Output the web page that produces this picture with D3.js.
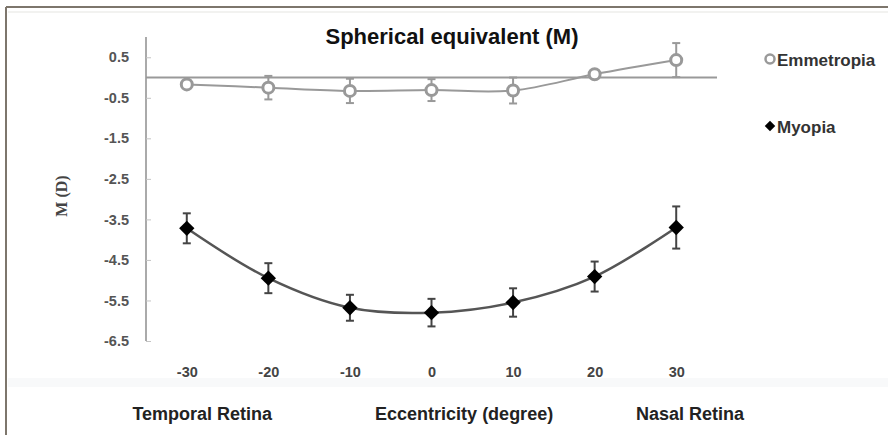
<!DOCTYPE html>
<html><head><meta charset="utf-8">
<script src="https://cdn.jsdelivr.net/npm/d3@7"></script>
<style>body{margin:0;background:#fff}svg{display:block}</style>
</head><body>
<svg id="c" width="888" height="435"></svg>
<script>
const eccentricity = [-30, -20, -10, 0, 10, 20, 30];
const emmetropia = [-0.17, -0.25, -0.33, -0.31, -0.32, 0.08, 0.43];
const emmetropiaErr = [0.08, 0.29, 0.3, 0.27, 0.32, 0.08, 0.42];
const myopia = [-3.72, -4.95, -5.68, -5.80, -5.55, -4.91, -3.70];
const myopiaErr = [0.37, 0.37, 0.32, 0.34, 0.35, 0.37, 0.52];
const yTicks = [0.5, -0.5, -1.5, -2.5, -3.5, -4.5, -5.5, -6.5];
const title = "Spherical equivalent (M)";
const yLabel = "M (D)";
const bottomLabels = [["Temporal Retina", -28.1], ["Eccentricity (degree)", 4], ["Nasal Retina", 31.7]];

const svg = d3.select("#c");
const x = d3.scaleLinear().domain([-35, 35]).range([146, 717]);
const y = d3.scaleLinear().domain([1.0, -6.5]).range([37, 341]);
const fmt = d => String(d);
const sans = "'Liberation Sans', Arial, sans-serif";

// frame
svg.append("rect").attr("x", 8).attr("y", 378).attr("width", 880).attr("height", 9).attr("fill", "#f8f9fa");
svg.append("line").attr("x1", 6).attr("x2", 888).attr("y1", 7).attr("y2", 7).attr("stroke", "#7d766c").attr("stroke-width", 2);
svg.append("line").attr("x1", 6).attr("x2", 6).attr("y1", 7).attr("y2", 435).attr("stroke", "#7d766c").attr("stroke-width", 2);
svg.append("line").attr("x1", 8).attr("x2", 888).attr("y1", 12).attr("y2", 12).attr("stroke", "#f2f2f0").attr("stroke-width", 2);

// title
svg.append("text").attr("x", 452).attr("y", 44).attr("text-anchor", "middle")
  .style("font", `bold 22px ${sans}`).attr("fill", "#111").text(title);

// y axis
const yAxis = d3.axisLeft(y).tickValues(yTicks).tickSize(-5).tickPadding(17).tickFormat(fmt);
const gy = svg.append("g").attr("transform", "translate(146,0)").call(yAxis);
gy.select(".domain").attr("stroke", "#aaa").attr("stroke-width", 2).attr("d", `M0,${y(1.0)}V${y(-6.5)}`);
gy.selectAll(".tick line").attr("stroke", "#c4c4c4").attr("stroke-width", 1);
gy.selectAll(".tick text").attr("fill", "#555").style("font", `bold 14.5px ${sans}`);

// y label
svg.append("text").attr("transform", `translate(67,196) rotate(-90)`).attr("text-anchor", "middle")
  .style("font", "bold 16px 'Liberation Serif', 'Times New Roman', serif").attr("fill", "#444").text(yLabel);

// zero line (x axis)
svg.append("line").attr("x1", x(-35)).attr("x2", x(35)).attr("y1", y(0)).attr("y2", y(0))
  .attr("stroke", "#999").attr("stroke-width", 2);

// x tick labels
const xAxis = d3.axisBottom(x).tickValues(eccentricity).tickSize(0).tickPadding(0).tickFormat(fmt);
const gx = svg.append("g").attr("transform", "translate(0,367)").call(xAxis);
gx.select(".domain").remove();
gx.selectAll(".tick text").attr("fill", "#444").style("font", `bold 14.5px ${sans}`);

// bottom labels
svg.selectAll("text.bl").data(bottomLabels).enter().append("text").attr("class", "bl")
  .attr("x", d => x(d[1])).attr("y", 420).attr("text-anchor", "middle")
  .style("font", `bold 18px ${sans}`).attr("fill", "#222").text(d => d[0]);

const line = d3.line().x(d => x(d[0])).y(d => y(d[1])).curve(d3.curveCatmullRom.alpha(0.5));

function errBars(vals, errs, color) {
  const g = svg.append("g");
  eccentricity.forEach((e, i) => {
    const cx = x(e), t = y(vals[i] + errs[i]), b = y(vals[i] - errs[i]);
    g.append("line").attr("x1", cx).attr("x2", cx).attr("y1", t).attr("y2", b).attr("stroke", color).attr("stroke-width", 2);
    [t, b].forEach(yy => g.append("line").attr("x1", cx - 4).attr("x2", cx + 4).attr("y1", yy).attr("y2", yy).attr("stroke", color).attr("stroke-width", 2));
  });
}

// Emmetropia
errBars(emmetropia, emmetropiaErr, "#999");
svg.append("path").datum(eccentricity.map((e, i) => [e, emmetropia[i]])).attr("d", line)
  .attr("fill", "none").attr("stroke", "#999").attr("stroke-width", 2);
svg.selectAll("circle.em").data(eccentricity).enter().append("circle").attr("class", "em")
  .attr("cx", d => x(d)).attr("cy", (d, i) => y(emmetropia[i])).attr("r", 5.5)
  .attr("fill", "#fff").attr("stroke", "#999").attr("stroke-width", 3);

// Myopia
errBars(myopia, myopiaErr, "#444");
svg.append("path").datum(eccentricity.map((e, i) => [e, myopia[i]])).attr("d", line)
  .attr("fill", "none").attr("stroke", "#555").attr("stroke-width", 2.5);
const diamond = d3.symbol().type(d3.symbolDiamond2).size(150);
svg.selectAll("path.my").data(eccentricity).enter().append("path").attr("class", "my")
  .attr("transform", (d, i) => `translate(${x(d)},${y(myopia[i])})`).attr("d", diamond).attr("fill", "#000");

// legend
svg.append("circle").attr("cx", 770).attr("cy", 59).attr("r", 4.5).attr("fill", "#fff").attr("stroke", "#999").attr("stroke-width", 2.5);
svg.append("text").attr("x", 777).attr("y", 66).style("font", `bold 17px ${sans}`).attr("fill", "#333").text("Emmetropia");
svg.append("path").attr("transform", "translate(770,126)").attr("d", d3.symbol().type(d3.symbolDiamond2).size(70)).attr("fill", "#000");
svg.append("text").attr("x", 777).attr("y", 133).style("font", `bold 17px ${sans}`).attr("fill", "#333").text("Myopia");
</script>
</body></html>
